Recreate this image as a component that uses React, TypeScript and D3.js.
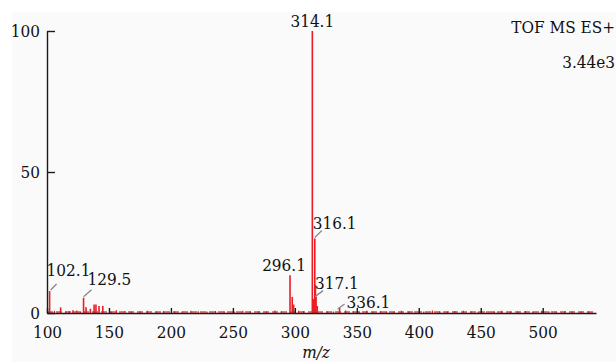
import { useEffect, useRef } from "react";
import * as d3 from "d3";

// main peaks (m/z, relative intensity %)
const PEAK_MZ = [102.1, 111.0, 121.0, 129.5, 131.5, 135.0, 138.0, 139.5, 142.0, 145.0, 296.1, 297.9, 299.0, 314.1, 315.1, 316.1, 316.6, 317.1, 318.1, 336.1];
const PEAK_INT = [7.8, 2.0, 1.0, 5.4, 2.0, 1.5, 3.0, 3.0, 2.5, 2.5, 13.4, 5.7, 3.0, 100, 5.0, 26.4, 10.0, 5.8, 2.5, 1.8];

// baseline noise
const NOISE_MZ = [106, 115, 118, 124, 127, 152, 156, 163, 168, 175, 181, 188, 194, 203, 209, 216, 222, 229, 236, 243, 251, 258, 264, 271, 277, 284, 289, 303, 307, 326, 331, 341, 347, 352, 358, 363, 369, 374, 380, 386, 392, 397, 404, 411, 417, 423, 429, 436, 442, 448, 455, 461, 467, 474, 480, 486, 492, 499, 505, 511, 518, 524, 531, 537];
const NOISE_INT = [0.8, 0.6, 0.7, 0.9, 0.6, 0.5, 1.0, 0.7, 0.5, 0.6, 0.8, 0.5, 0.7, 0.6, 0.5, 0.8, 0.6, 0.5, 0.7, 0.6, 0.5, 0.8, 0.6, 0.7, 0.5, 0.9, 0.6, 0.8, 0.7, 0.6, 0.5, 0.9, 0.7, 0.6, 0.8, 0.5, 0.7, 0.6, 0.5, 0.8, 0.6, 0.7, 0.5, 0.9, 0.6, 0.5, 0.7, 0.8, 0.6, 0.5, 0.7, 0.6, 0.8, 0.5, 0.6, 0.7, 0.5, 0.8, 0.6, 0.5, 0.7, 0.6, 0.5, 0.6];

const LABEL_MZ = [102.1, 129.5, 296.1, 314.1, 316.1, 317.1, 336.1];
const LABEL_TEXT = ["102.1", "129.5", "296.1", "314.1", "316.1", "317.1", "336.1"];

const X_TICKS = [100, 150, 200, 250, 300, 350, 400, 450, 500];
const Y_TICKS = [0, 50, 100];

// label placement relative to peak top: leader [x1,y1,x2,y2], text [dx, dy, anchor]
const LABEL_LAYOUT: Record<string, { leader?: number[]; text: [number, number, string] }> = {
  "102.1": { leader: [1, -1, 7, -7], text: [-3, -15, "start"] },
  "129.5": { leader: [0, -1, 8, -8], text: [4, -13, "start"] },
  "296.1": { text: [-6, -4, "middle"] },
  "314.1": { text: [0, -4, "middle"] },
  "316.1": { leader: [0, -1, 7, -8], text: [-2, -10, "start"] },
  "317.1": { leader: [-1, 0, 7, -6], text: [-1, -8, "start"] },
  "336.1": { leader: [-2, 1, 5, -4], text: [7, 0.5, "start"] }
};

const RED = "#ec1c24";
const FONT = '"DejaVu Serif Condensed", "DejaVu Serif", serif';

export default function App() {
  const svgRef = useRef<SVGSVGElement>(null);

  useEffect(() => {
    if (!svgRef.current) return;
    const width = 616;
    const height = 362;
    const svg = d3.select(svgRef.current);
    svg.selectAll("*").remove();

    svg.append("rect")
      .attr("x", 12).attr("y", 12)
      .attr("width", width - 12).attr("height", height - 12)
      .attr("fill", "#fafafa");

    const x = d3.scaleLinear().domain([100, 543]).range([47, 596]);
    const y = d3.scaleLinear().domain([0, 100]).range([313, 31]);

    // noise floor
    svg.append("line")
      .attr("x1", x(100)).attr("x2", x(541))
      .attr("y1", y(0) - 1).attr("y2", y(0) - 1)
      .attr("stroke", RED).attr("stroke-width", 1.4)
      .attr("stroke-dasharray", "6 3").attr("opacity", 0.8);

    svg.append("g")
      .selectAll("line")
      .data(NOISE_MZ.map((m, i) => ({ m, v: NOISE_INT[i] })))
      .enter()
      .append("line")
      .attr("x1", (d) => x(d.m)).attr("x2", (d) => x(d.m))
      .attr("y1", y(0)).attr("y2", (d) => y(d.v))
      .attr("stroke", RED).attr("stroke-width", 1.2);

    svg.append("g")
      .selectAll("line")
      .data(PEAK_MZ.map((m, i) => ({ m, v: PEAK_INT[i] })))
      .enter()
      .append("line")
      .attr("x1", (d) => x(d.m)).attr("x2", (d) => x(d.m))
      .attr("y1", y(0)).attr("y2", (d) => y(d.v))
      .attr("stroke", RED).attr("stroke-width", 1.6);

    // axes
    const styleAxis = (a: any) => {
      a.attr("font-family", null).attr("font-size", null);
      a.selectAll("line,path").attr("stroke", "#1a1a1a").attr("stroke-width", 1.4);
      a.selectAll("text").attr("fill", "#111");
    };

    svg.append("g")
      .attr("transform", `translate(0,${y(0)})`)
      .call(d3.axisBottom(x).tickValues(X_TICKS).tickSizeInner(-5).tickSizeOuter(0).tickPadding(13).tickFormat(d3.format("d")))
      .call(styleAxis);

    svg.append("g")
      .attr("transform", `translate(${x(100)},0)`)
      .call(d3.axisLeft(y).tickValues(Y_TICKS).tickSizeInner(-8).tickSizeOuter(0).tickPadding(7).tickFormat(d3.format("d")))
      .call(styleAxis);

    // peak labels
    const labels = svg.append("g").attr("fill", "#111");
    LABEL_MZ.forEach((m, i) => {
      const idx = PEAK_MZ.indexOf(m);
      const px = x(m);
      const py = y(PEAK_INT[idx]);
      const lay = LABEL_LAYOUT[LABEL_TEXT[i]];
      if (lay.leader) {
        const [x1, y1, x2, y2] = lay.leader;
        svg.append("line")
          .attr("x1", px + x1).attr("y1", py + y1)
          .attr("x2", px + x2).attr("y2", py + y2)
          .attr("stroke", "#888").attr("stroke-width", 1.3);
      }
      labels.append("text")
        .attr("x", px + lay.text[0])
        .attr("y", py + lay.text[1])
        .attr("text-anchor", lay.text[2])
        .text(LABEL_TEXT[i]);
    });

    svg.append("text")
      .attr("x", 615).attr("y", 33)
      .attr("text-anchor", "end")
      .attr("fill", "#111")
      .text("TOF MS ES+");
    svg.append("text")
      .attr("x", 615).attr("y", 68)
      .attr("text-anchor", "end")
      .attr("fill", "#111")
      .text("3.44e3");

    svg.append("text")
      .attr("x", 316).attr("y", 358)
      .attr("text-anchor", "middle")
      .attr("font-style", "italic").attr("fill", "#111")
      .text("m/z");
  }, []);

  return (
    <svg
      ref={svgRef}
      width={616}
      height={362}
      style={{
        position: "absolute",
        left: 0,
        top: 0,
        background: "#fff",
        fontFamily: FONT,
        fontStretch: "condensed",
        fontSize: 17
      }}
    />
  );
}
